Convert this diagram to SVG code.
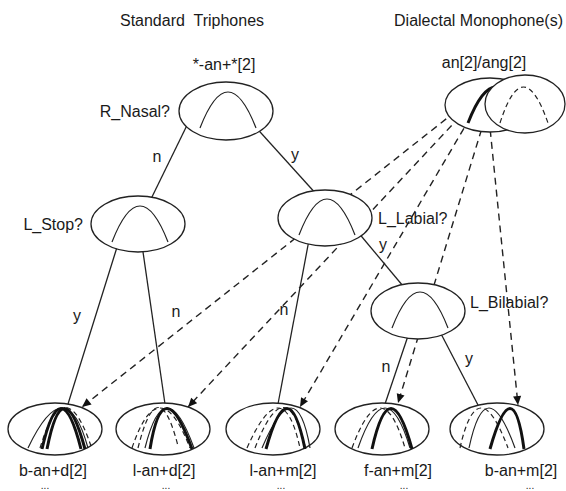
<svg xmlns="http://www.w3.org/2000/svg" width="566" height="491" viewBox="0 0 566 491">
<defs>
<marker id="arr" viewBox="0 0 10 10" refX="10" refY="5" markerWidth="10" markerHeight="9" markerUnits="userSpaceOnUse" orient="auto"><path d="M0,0.5 L10,5 L0,9.5 z" fill="#111"/></marker>
<path id="bell" d="M-26,17 Q2,-55 30,17"/>
</defs>
<style>
text{font-family:"Liberation Sans",Arial,sans-serif;font-size:16px;fill:#1a1a1a}
.mid{text-anchor:middle}
.end{text-anchor:end}
.node ellipse{fill:#fff;stroke:#222;stroke-width:1.3}
.edge{stroke:#222;stroke-width:1.3;fill:none}
.dash{stroke:#222;stroke-width:1.4;fill:none;stroke-dasharray:7 5}
.c{fill:none;stroke:#222;stroke-width:1.2}
.ck{fill:none;stroke:#111;stroke-width:3}
.cd{fill:none;stroke:#222;stroke-width:1.2;stroke-dasharray:5 3.5}
.dots{font-size:10px}
</style>
<rect width="566" height="491" fill="#fff"/>
<text x="192" y="26" class="mid" xml:space="preserve">Standard  Triphones</text>
<text x="563" y="26" class="end">Dialectal Monophone(s)</text>

<g id="connectors">
<path class="edge" d="M193,113 L150,201"/>
<path class="edge" d="M252,123 L318,196"/>
<path class="edge" d="M118,244 L68,404"/>
<path class="edge" d="M142,245 L165,404"/>
<path class="edge" d="M309,240 L278,404"/>
<path class="edge" d="M352,225 L408,292"/>
<path class="edge" d="M410,330 L385,404"/>
<path class="edge" d="M438,328 L478,405"/>
<path class="dash" d="M465,104 L82,407" marker-end="url(#arr)"/>
<path class="dash" d="M468,108 L188,407" marker-end="url(#arr)"/>
<path class="dash" d="M470,118 L300,407" marker-end="url(#arr)"/>
<path class="dash" d="M485,118 L398,403" marker-end="url(#arr)"/>
<path class="dash" d="M489,118 L518,405" marker-end="url(#arr)"/>
<text x="157" y="162" class="mid">n</text>
<text x="295" y="160" class="mid">y</text>
<text x="383" y="250" class="mid">y</text>
<text x="77" y="321" class="mid">y</text>
<text x="176" y="317" class="mid">n</text>
<text x="284" y="315" class="mid">n</text>
<text x="386" y="372" class="mid">n</text>
<text x="469" y="364" class="mid">y</text>
</g>

<g id="root" class="node">
<ellipse cx="226" cy="111" rx="47" ry="29"/>
<use href="#bell" x="226" y="111" class="c"/>
<text x="224" y="70" class="mid">*-an+*[2]</text>
<text x="170" y="117" class="end">R_Nasal?</text>
</g>

<g id="monophone" class="node">
<ellipse cx="490" cy="105" rx="45" ry="27"/>
<use href="#bell" x="494" y="106" class="ck"/>
<ellipse cx="525" cy="104" rx="40" ry="29"/>
<path class="cd" d="M500,123 Q523,51 548,123"/>
<text x="484" y="68" class="mid">an[2]/ang[2]</text>
</g>

<g id="lstop" class="node">
<ellipse cx="138" cy="224" rx="47" ry="28"/>
<use href="#bell" x="138" y="225" class="c"/>
<text x="83" y="230" class="end">L_Stop?</text>
</g>

<g id="llabial" class="node">
<ellipse cx="325" cy="218" rx="47" ry="28"/>
<use href="#bell" x="325" y="218" class="c"/>
<text x="378" y="224">L_Labial?</text>
</g>

<g id="lbilabial" class="node">
<ellipse cx="418" cy="311" rx="47" ry="28"/>
<use href="#bell" x="418" y="311" class="c"/>
<text x="470" y="308">L_Bilabial?</text>
</g>

<g id="leaf1" class="node">
<ellipse cx="55" cy="429" rx="47" ry="26"/>
<path class="c" d="M28,448 Q66,368 88,448"/>
<path class="cd" d="M40,448 Q64.5,368 91,446"/>
<path class="ck" d="M42,449 Q60.5,368 81,449" stroke-width="2.6"/>
<path class="ck" d="M47,449 Q63,368 85,449" stroke-width="1.6"/>
<text x="53" y="476" class="mid">b-an+d[2]</text>
<text x="45" y="489" class="mid dots">...</text>
</g>

<g id="leaf2" class="node">
<ellipse cx="163" cy="429" rx="47" ry="26"/>
<path class="cd" d="M132,448 Q159,368 190,448"/>
<path class="cd" d="M138,448 Q158,368 178,446"/>
<path class="c" d="M145,448 Q165,368 194,448"/>
<path class="ck" d="M150,449 Q163,368 192,449"/>
<text x="164" y="476" class="mid">l-an+d[2]</text>
<text x="166" y="489" class="mid dots">...</text>
</g>

<g id="leaf3" class="node">
<ellipse cx="273" cy="429" rx="47" ry="26"/>
<path class="cd" d="M247,448 Q282.5,368 300,448"/>
<path class="cd" d="M255,448 Q286,368 305,446"/>
<path class="c" d="M262,448 Q296,368 310,448"/>
<path class="ck" d="M266,449 Q288.5,368 305,449"/>
<text x="283" y="476" class="mid">l-an+m[2]</text>
<text x="281" y="489" class="mid dots">...</text>
</g>

<g id="leaf4" class="node">
<ellipse cx="382" cy="429" rx="47" ry="26"/>
<path class="cd" d="M352,448 Q381.5,368 405,448"/>
<path class="c" d="M358,448 Q386,368 410,448"/>
<path class="ck" d="M372,449 Q390,368 412,449"/>
<text x="398" y="476" class="mid">f-an+m[2]</text>
<text x="404" y="489" class="mid dots">...</text>
</g>

<g id="leaf5" class="node">
<ellipse cx="497" cy="429" rx="47" ry="26"/>
<path class="cd" d="M460,448 Q478,368 508,448"/>
<path class="c" d="M469,448 Q486,368 515,448"/>
<path class="ck" d="M490,449 Q513,368 524,449"/>
<text x="521" y="476" class="mid">b-an+m[2]</text>
<text x="530" y="489" class="mid dots">...</text>
</g>
</svg>
